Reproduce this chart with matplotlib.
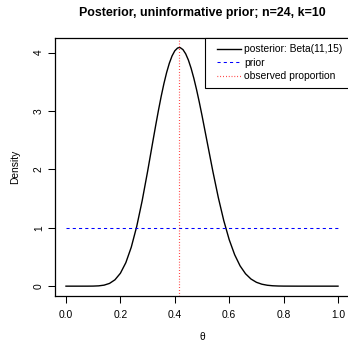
import matplotlib
matplotlib.use("Agg")
import matplotlib.pyplot as plt
from matplotlib.lines import Line2D
from matplotlib.legend_handler import HandlerLine2D

# Data (posterior density curve)
theta = [0.00, 0.02, 0.04, 0.06, 0.08, 0.10, 0.12, 0.14, 0.16, 0.18, 0.20,
         0.22, 0.24, 0.26, 0.28, 0.30, 0.32, 0.33, 0.34, 0.35, 0.36, 0.37, 0.38, 0.39, 0.40,
         0.41, 0.4167, 0.42, 0.43, 0.44, 0.45, 0.46, 0.47, 0.48, 0.49, 0.50, 0.52, 0.54,
         0.56, 0.58, 0.60, 0.62, 0.64, 0.66, 0.68, 0.70, 0.72, 0.74, 0.76, 0.78, 0.80,
         0.85, 0.90, 0.95, 1.00]
posterior = [0.0, 0.0, 0.0, 0.00001, 0.00016, 0.0011, 0.0051, 0.0172, 0.0470, 0.1088, 0.2208,
             0.4018, 0.6668, 1.0220, 1.4612, 1.9637, 2.4951, 2.7584, 3.0122, 3.2504, 3.4675,
             3.6582, 3.8177, 3.9422, 4.0290,
             4.0762, 4.085, 4.0829, 4.0497, 3.9778, 3.8701, 3.7288, 3.5590, 3.3646, 3.1508,
             2.9225, 2.4428, 1.9635,
             1.5160, 1.1227, 0.7958, 0.5387, 0.3471, 0.2122, 0.1224, 0.0662, 0.0334, 0.0156,
             0.0066, 0.0025, 0.0009,
             0.0001, 0.0, 0.0, 0.0]
prior_x = [0.0, 1.0]
prior_y = [1.0, 1.0]
observed = 10 / 24

title = "Posterior, uninformative prior; n=24, k=10"
legend_labels = ["posterior: Beta(11,15)", "prior", "observed proportion"]
xticks = [0.0, 0.2, 0.4, 0.6, 0.8, 1.0]
yticks = [0, 1, 2, 3, 4]

plt.rcParams['font.family'] = ['Liberation Sans', 'DejaVu Sans']
fs = 7.4

fig = plt.figure(figsize=(3.48, 3.42), dpi=100)
ax = fig.add_axes([55.1/348, (342-295.7)/342, 293.8/348, 257.7/342])

ax.plot(theta, posterior, color='black', lw=1.0, label=legend_labels[0])
ax.plot(prior_x, prior_y, color='blue', lw=0.75, dashes=(3, 3), label=legend_labels[1])
ax.axvline(observed, color='red', lw=0.85, dashes=(0.6, 1.8), label=legend_labels[2])
ax.margins(x=0.04, y=0.04)

ax.set_xticks(xticks)
ax.set_xticklabels([f"{v:.1f}" for v in xticks])
ax.set_yticks(yticks)
ax.set_yticklabels([str(v) for v in yticks], rotation=90, va='center')
ax.tick_params(direction='out', length=5, width=0.75, labelsize=fs)
ax.tick_params(axis='x', pad=5)
ax.tick_params(axis='y', pad=3)
for s in ax.spines.values():
    s.set_linewidth(0.9)
    s.set_color('black')

ax.set_xlabel("θ", fontsize=fs, labelpad=9)
ax.set_ylabel("Density", fontsize=fs, labelpad=10)
ax.set_title(title, fontsize=8.9, fontweight='bold', pad=16)

leg = ax.legend(loc='upper right', borderaxespad=0, fancybox=False,
                edgecolor='black', fontsize=fs, handlelength=2.95,
                handletextpad=0.3, borderpad=0.6, labelspacing=0.35,
                framealpha=1, handler_map={Line2D: HandlerLine2D(xpad=0.6)})
leg.get_frame().set_linewidth(0.8)

fig.savefig("out.png", dpi=100)
